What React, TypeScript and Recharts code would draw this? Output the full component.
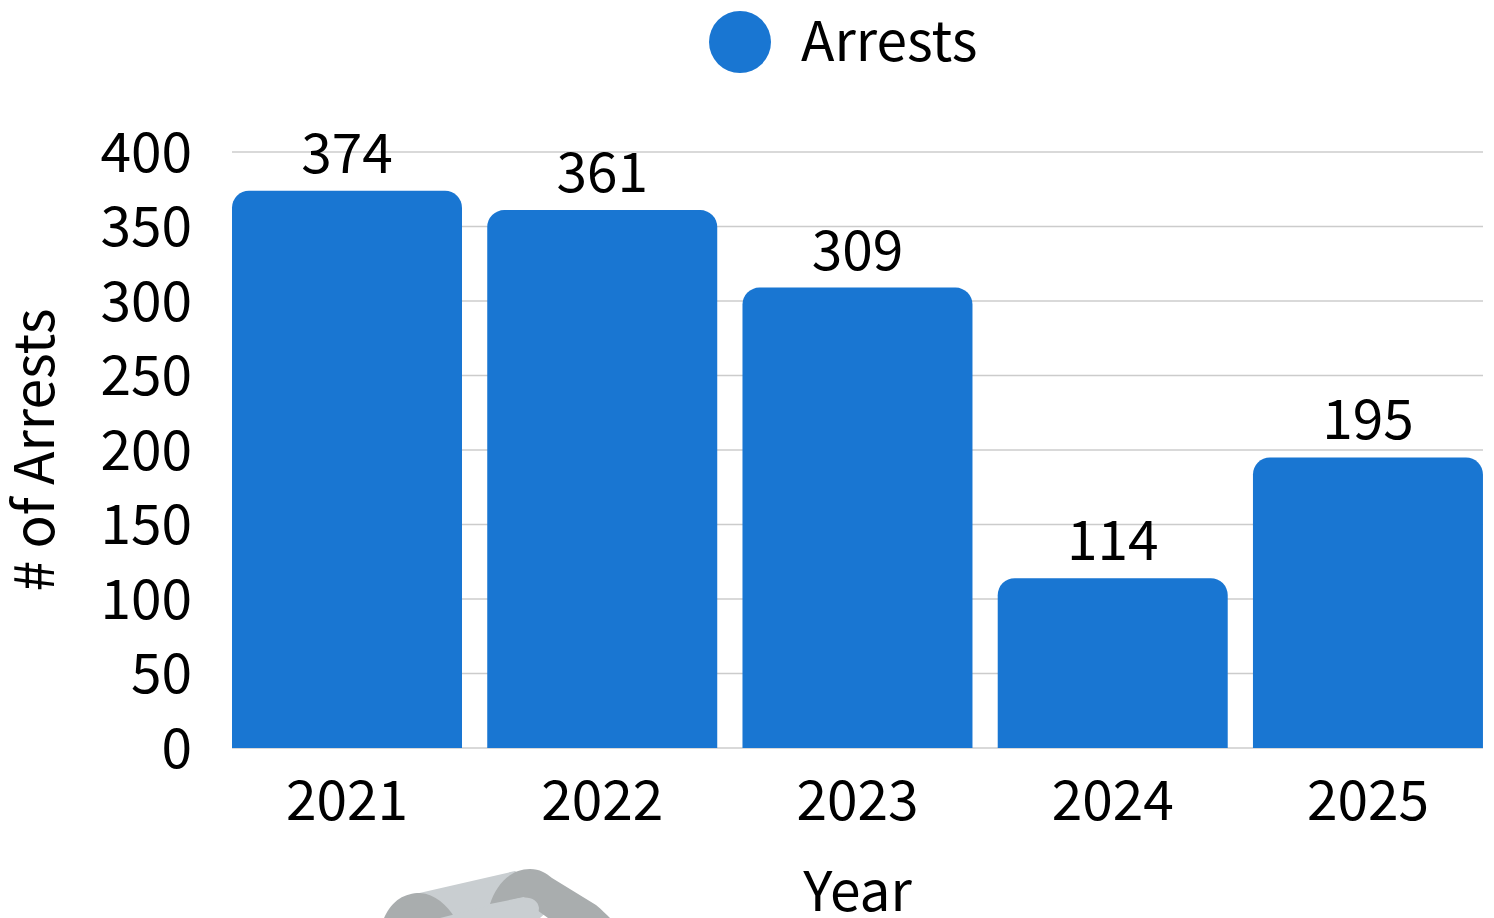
import { BarChart, Bar, XAxis, YAxis, CartesianGrid, LabelList, Legend } from 'recharts';

const years = ['2021', '2022', '2023', '2024', '2025'];
const arrests = [374, 361, 309, 114, 195];
const yTicks = [0, 50, 100, 150, 200, 250, 300, 350, 400];

const chartData = years.map((year, i) => ({ year, arrests: arrests[i] }));
const font = '"Noto Sans CJK SC", sans-serif';
const barColor = '#1976d2';

function ArrestsLegend() {
  return (
    <div style={{ display: 'flex', alignItems: 'center', height: 84, paddingLeft: 709, fontFamily: font }}>
      <span style={{ width: 62, height: 62, borderRadius: '50%', background: barColor }} />
      <span style={{ marginLeft: 30, marginTop: -10, fontSize: 55, lineHeight: '84px', color: '#000' }}>Arrests</span>
    </div>
  );
}

export default function App() {
  return (
    <div style={{ position: 'absolute', left: 0, top: 0, width: 1494, height: 918, overflow: 'hidden', fontFamily: font }}>
      {/* chain logo cut off by the bottom edge */}
      <svg width={1494} height={918} style={{ position: 'absolute', left: 0, top: 0 }}>
        <path d="M415 894 L515 871 L560 900 L540 918 L400 918 Z" fill="#c9ced1" />
        <path d="M384 918 C392 900 405 893 420 893 C435 894 447 905 455 918 Z" fill="#a9adae" />
        <path d="M490 904 C496 885 510 869 530 869 C540 869 546 873 552 878 L596 905 C602 910 606 914 610 918 L548 918 L530 905 L524 897 Z" fill="#a9adae" />
        <path d="M440 918 L520 898 C530 896 538 900 539 908 C539 912 537 916 535 918 Z" fill="#c9ced1" />
      </svg>
      <BarChart
        width={1494}
        height={918}
        data={chartData}
        barCategoryGap={12.6}
        margin={{ top: 68, right: 11, left: 0, bottom: 0 }}
        style={{ position: 'absolute', left: 0, top: 0 }}
      >
        <CartesianGrid vertical={false} stroke="#cccccc" strokeWidth={1.5} />
        <XAxis
          dataKey="year"
          axisLine={false}
          tickLine={false}
          height={170}
          padding={{ left: -12.6, right: -12.6 }}
          tickMargin={27}
          tick={{ fill: '#000', fontSize: 55, fontFamily: font }}
          label={{ value: 'Year', position: 'insideTop', offset: 124, fill: '#000', fontSize: 55, fontFamily: font }}
        />
        <YAxis
          domain={[0, 400]}
          ticks={yTicks}
          interval={0}
          axisLine={false}
          tickLine={false}
          width={232}
          tickMargin={34}
          tick={{ fill: '#000', fontSize: 55, fontFamily: font }}
          label={{ value: '# of Arrests', angle: -90, position: 'insideLeft', offset: 34, fill: '#000', fontSize: 55, fontFamily: font, style: { textAnchor: 'middle' } }}
        />
        <Legend verticalAlign="top" height={84} wrapperStyle={{ top: 0, left: 0, width: 1494 }} content={<ArrestsLegend />} />
        <Bar dataKey="arrests" name="Arrests" fill={barColor} radius={[17, 17, 0, 0]} isAnimationActive={false}>
          <LabelList dataKey="arrests" position="top" offset={18} fill="#000" fontSize={55} fontFamily={font} />
        </Bar>
      </BarChart>
    </div>
  );
}
